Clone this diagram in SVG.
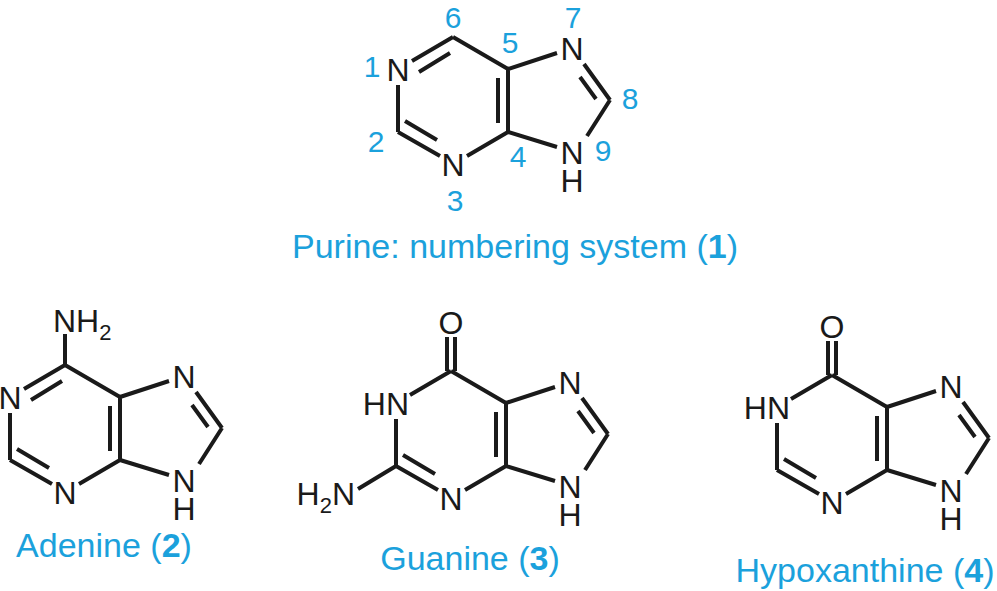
<svg xmlns="http://www.w3.org/2000/svg" width="997" height="591" viewBox="0 0 997 591">
<style>
.b{stroke:#1a1a1a;stroke-width:4;fill:none;stroke-linecap:butt}
.a{font-family:"Liberation Sans",Arial,sans-serif;font-size:32px;fill:#1a1a1a;text-anchor:middle}
.n{font-family:"Liberation Sans",Arial,sans-serif;font-size:30px;fill:#1ba1dc;text-anchor:middle}
.t{font-family:"Liberation Sans",Arial,sans-serif;font-size:34px;fill:#1ba1dc;text-anchor:middle}
</style>
<defs>
<g id="core">
<path class="b" d="M453,37 L508,69 M508,69 L508,132 M498,78 L498,123 M508,132 L467,156 M508,69 L557,53 M584,64 L610,100 M580,77 L596,99 M610,100 L587,136 M557,147 L508,132"/>
<text class="a" x="453" y="176">N</text>
<text class="a" x="572" y="60">N</text>
<text class="a" x="572" y="164">N</text>
<text class="a" x="572" y="192">H</text>
</g>
</defs>
<g id="purine">
<use href="#core"/>
<path class="b" d="M412,61 L453,37 M419,72 L450,53 M398,85 L398,132 M398,132 L440,156 M405,121 L437,140"/>
<text class="a" x="398" y="81">N</text>
<text class="n" x="453" y="28">6</text>
<text class="n" x="510" y="53">5</text>
<text class="n" x="573" y="28">7</text>
<text class="n" x="630" y="109">8</text>
<text class="n" x="372" y="77">1</text>
<text class="n" x="376" y="152">2</text>
<text class="n" x="455" y="211">3</text>
<text class="n" x="518" y="167">4</text>
<text class="n" x="603" y="161">9</text>
<text class="t" x="515" y="258">Purine: numbering system (<tspan font-weight="bold">1</tspan>)</text>
</g>
<g id="adenine" transform="translate(-388,328)">
<use href="#core"/>
<path class="b" d="M412,61 L453,37 M419,72 L450,53 M398,85 L398,132 M398,132 L440,156 M405,121 L437,140 M453,37 L453,6"/>
<text class="a" x="398" y="81">N</text>
<text class="a" x="441" y="4" style="text-anchor:start">NH<tspan font-size="22" dy="8">2</tspan></text>
</g>
<text class="t" x="104" y="557">Adenine (<tspan font-weight="bold">2</tspan>)</text>
<g id="guanine" transform="translate(-2,334)">
<use href="#core"/>
<path class="b" d="M412,61 L453,37 M398,85 L398,132 M398,132 L440,156 M405,121 L437,140 M449,37 L449,3 M457,37 L457,3 M398,132 L360,155"/>
<text class="a" x="411" y="81" style="text-anchor:end">HN</text>
<text class="a" x="453" y="0">O</text>
<text class="a" x="357" y="171" style="text-anchor:end">H<tspan font-size="22" dy="8">2</tspan><tspan dy="-8">N</tspan></text>
</g>
<text class="t" x="470" y="570">Guanine (<tspan font-weight="bold">3</tspan>)</text>
<g id="hypoxanthine" transform="translate(379,338)">
<use href="#core"/>
<path class="b" d="M412,61 L453,37 M398,85 L398,132 M398,132 L440,156 M405,121 L437,140 M449,37 L449,3 M457,37 L457,3"/>
<text class="a" x="411" y="81" style="text-anchor:end">HN</text>
<text class="a" x="453" y="0">O</text>
</g>
<text class="t" x="865" y="582">Hypoxanthine (<tspan font-weight="bold">4</tspan>)</text>
</svg>
